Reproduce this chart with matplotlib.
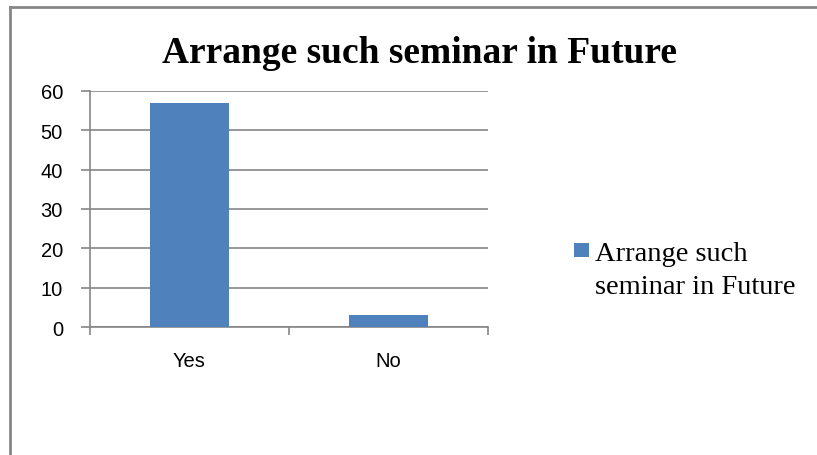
import matplotlib.pyplot as plt
from matplotlib.lines import Line2D
from matplotlib.patches import Rectangle

categories = ["Yes", "No"]
values = [57, 3]
series_name = "Arrange such\nseminar in Future"
chart_title = "Arrange such seminar in Future"
y_ticks = [0, 10, 20, 30, 40, 50, 60]

bar_color = "#4F81BD"
axis_gray = "#868686"

W, H = 817, 456
fig = plt.figure(figsize=(W / 100, H / 100), dpi=100)

# outer chart frame (only top and left edges are visible in the crop)
fig.add_artist(Line2D([10 / W, 10 / W], [0, 1 - 7.5 / H], color=axis_gray, lw=2,
                      transform=fig.transFigure))
fig.add_artist(Line2D([10 / W, 1], [1 - 7.5 / H, 1 - 7.5 / H], color=axis_gray, lw=2,
                      transform=fig.transFigure))

ax = fig.add_axes([90 / W, 1 - 328 / H, (488 - 90) / W, (328 - 92) / H])
x = list(range(len(categories)))
ax.bar(x, values, width=0.4, color=bar_color, zorder=3)

ax.set_xlim(-0.5, len(categories) - 0.5)
ax.set_ylim(0, 60)
ax.set_yticks(y_ticks)
ax.yaxis.grid(True, color=axis_gray, lw=1.2, zorder=0)
ax.set_axisbelow(True)

# category boundary ticks, labels centred under bars
ax.set_xticks([i - 0.5 for i in range(len(categories) + 1)])
ax.set_xticklabels([])
ax.set_xticks(x, minor=True)
ax.set_xticklabels(categories, minor=True)
ax.tick_params(axis="x", which="major", length=6, width=1.2, color=axis_gray, direction="out")
ax.tick_params(axis="x", which="minor", length=0, pad=17, labelsize=14.5)
ax.tick_params(axis="y", length=6.5, width=1.2, color=axis_gray, direction="out",
               pad=13, labelsize=14.5)
for lab in ax.get_xticklabels(minor=True) + ax.get_yticklabels():
    lab.set_fontfamily("Liberation Sans")

for s in ["top", "right"]:
    ax.spines[s].set_visible(False)
for s in ["left", "bottom"]:
    ax.spines[s].set_color(axis_gray)
    ax.spines[s].set_linewidth(1.2)

fig.text(420 / W, 1 - 63 / H, chart_title, ha="center", va="baseline",
         fontsize=27, fontweight="bold", family="Liberation Serif")

# legend: square marker next to the first line of the wrapped series name
fig.add_artist(Rectangle((574 / W, 1 - 258 / H), 15 / W, 14 / H, facecolor=bar_color,
                         edgecolor="none", transform=fig.transFigure))
fig.text(595 / W, 1 - 242 / H, series_name, ha="left", va="top", linespacing=1.4,
         fontsize=20.5, family="Liberation Serif")

fig.savefig("out.png", dpi=100)
